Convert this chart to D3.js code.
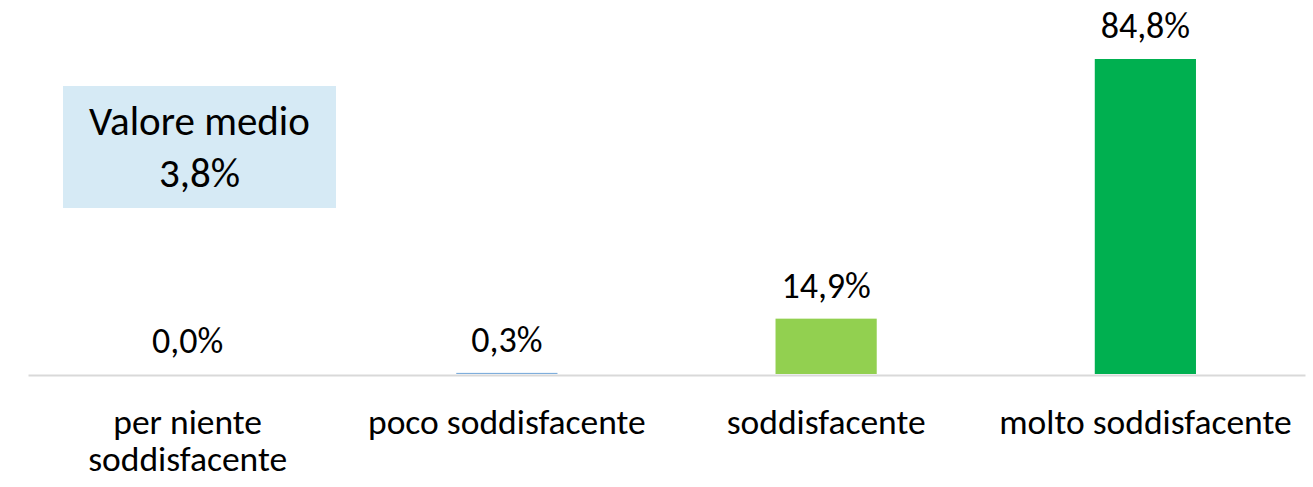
<!DOCTYPE html>
<html>
<head>
<meta charset="utf-8">
<script src="https://cdn.jsdelivr.net/npm/d3@7"></script>
<style>
  body { margin: 0; background: #fff; }
  svg { display: block; font-family: Carlito, Lato, sans-serif; }
</style>
</head>
<body>
<svg id="chart"></svg>
<script>
const categories = ["per niente\nsoddisfacente", "poco soddisfacente", "soddisfacente", "molto soddisfacente"]
const values = [0.0, 0.3, 14.9, 84.8]
const barColors = ["#f4b183", "#7faedc", "#92d050", "#00b050"]
const averageLabel = ["Valore medio", "3,8%"]

const width = 1313
const height = 487
const margin = { top: 59, right: 8, bottom: 113, left: 28 }

const svg = d3.select("#chart").attr("width", width).attr("height", height)

// scales
const x = d3.scaleBand()
  .domain(categories)
  .range([margin.left, width - margin.right])
  .paddingInner(0.683)
  .paddingOuter(0.3415)

const y = d3.scaleLinear()
  .domain([0, 84.8])
  .range([height - margin.bottom, margin.top])

const fmt = (v) => v.toFixed(1).replace(".", ",") + "%"

// bars
svg.append("g")
  .selectAll("rect")
  .data(values)
  .join("rect")
  .attr("x", (d, i) => x(categories[i]))
  .attr("y", (d) => y(d))
  .attr("width", x.bandwidth())
  .attr("height", (d) => y(0) - y(d))
  .attr("fill", (d, i) => barColors[i])

// data labels
svg.append("g")
  .selectAll("text")
  .data(values)
  .join("text")
  .attr("x", (d, i) => x(categories[i]) + x.bandwidth() / 2)
  .attr("y", (d) => y(d) - 21)
  .attr("text-anchor", "middle")
  .attr("font-size", 36)
  .attr("fill", "#000")
  .text((d) => fmt(d))

// axis
const xAxis = d3.axisBottom(x).tickSize(0).tickPadding(0).tickFormat("")
const axisG = svg.append("g")
  .attr("transform", `translate(0, ${y(0) + 1})`)
  .call(xAxis)
  .attr("font-family", null)
axisG.select(".domain").attr("stroke", "#d9d9d9").attr("stroke-width", 2)

// category labels
axisG.selectAll(".tick").each(function (d) {
  const lines = d.split("\n")
  const t = d3.select(this).append("text")
    .attr("text-anchor", "middle")
    .attr("font-size", 35.5)
    .attr("fill", "#000")
  lines.forEach((line, i) => {
    t.append("tspan").attr("x", 0).attr("y", 59 + i * 36.5).text(line)
  })
})

// average box
const box = svg.append("g").attr("transform", "translate(63, 86)")
box.append("rect").attr("width", 273).attr("height", 122).attr("fill", "#d6eaf5")
averageLabel.forEach((line, i) => {
  box.append("text")
    .attr("x", 136.5)
    .attr("y", 49 + i * 52)
    .attr("text-anchor", "middle")
    .attr("font-size", 41)
    .attr("fill", "#000")
    .text(line)
})
</script>
</body>
</html>
